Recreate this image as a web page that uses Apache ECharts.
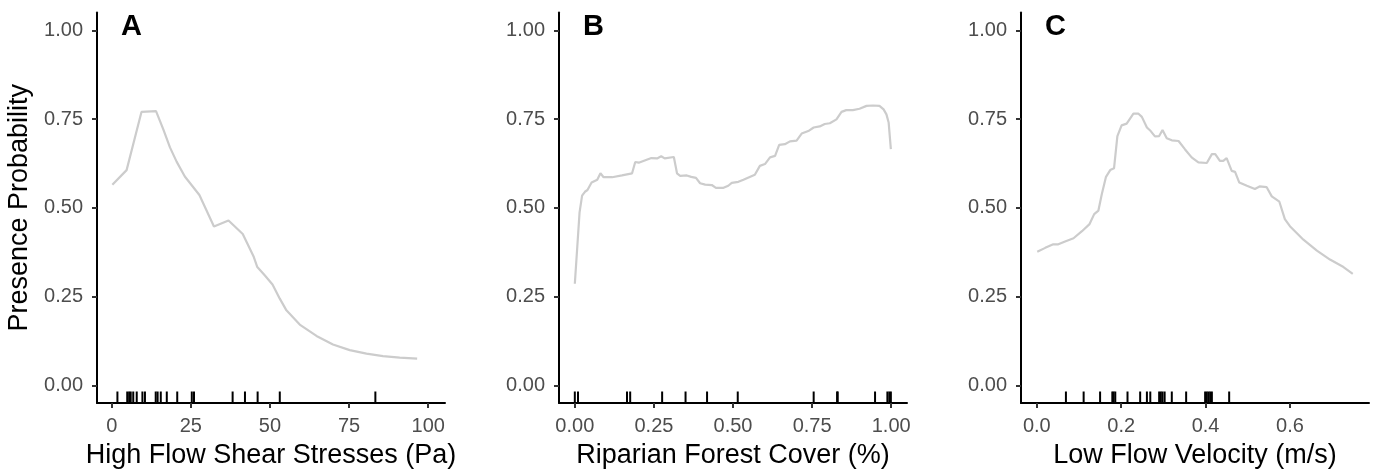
<!DOCTYPE html>
<html>
<head>
<meta charset="utf-8">
<script src="https://cdn.jsdelivr.net/npm/echarts@6/dist/echarts.min.js"></script>
<style>
html,body{margin:0;padding:0;background:#fff;}
#chart{width:1374px;height:474px;}
</style>
</head>
<body>
<div id="chart"></div>
<script>
// ---- Data ----
const panelLabels = ['A', 'B', 'C'];
const xTitles = ['High Flow Shear Stresses (Pa)', 'Riparian Forest Cover (%)', 'Low Flow Velocity (m/s)'];
const yTitle = 'Presence Probability';
const yTicks = [0, 0.25, 0.5, 0.75, 1];
const xTicksA = [0, 25, 50, 75, 100];
const xTicksB = [0, 0.25, 0.5, 0.75, 1];
const xTicksC = [0, 0.2, 0.4, 0.6];

const xA = [0.2, 4.7, 9.4, 14.0, 16.3, 18.4, 20.5, 23.1, 27.7, 32.3, 36.9, 41.4, 44.9, 46.0, 48.4, 50.8, 53.1, 55.2, 59.4, 64.7, 69.9, 75.2, 80.5, 85.7, 91.0, 96.5];
const yA = [0.565, 0.606, 0.770, 0.772, 0.721, 0.670, 0.630, 0.588, 0.536, 0.447, 0.464, 0.426, 0.361, 0.333, 0.309, 0.284, 0.244, 0.211, 0.171, 0.139, 0.115, 0.099, 0.089, 0.082, 0.078, 0.075];

const xB = [0.0, 0.008, 0.015, 0.023, 0.032, 0.040, 0.053, 0.071, 0.081, 0.091, 0.118, 0.149, 0.181, 0.191, 0.202, 0.223, 0.242, 0.260, 0.273, 0.284, 0.313, 0.323, 0.333, 0.354, 0.368, 0.383, 0.396, 0.412, 0.433, 0.446, 0.470, 0.485, 0.496, 0.517, 0.533, 0.569, 0.585, 0.601, 0.617, 0.633, 0.646, 0.664, 0.680, 0.701, 0.717, 0.738, 0.755, 0.774, 0.790, 0.806, 0.827, 0.843, 0.858, 0.879, 0.900, 0.922, 0.942, 0.963, 0.976, 0.985, 0.992, 0.999];
const yB = [0.286, 0.393, 0.487, 0.534, 0.545, 0.550, 0.571, 0.579, 0.597, 0.586, 0.586, 0.591, 0.597, 0.629, 0.627, 0.634, 0.640, 0.639, 0.645, 0.639, 0.643, 0.597, 0.590, 0.591, 0.587, 0.584, 0.569, 0.565, 0.564, 0.556, 0.556, 0.562, 0.570, 0.573, 0.579, 0.593, 0.618, 0.623, 0.642, 0.646, 0.677, 0.679, 0.687, 0.689, 0.709, 0.716, 0.726, 0.729, 0.736, 0.738, 0.749, 0.770, 0.775, 0.775, 0.779, 0.787, 0.788, 0.787, 0.777, 0.763, 0.740, 0.665];

const xC = [0.001, 0.020, 0.039, 0.051, 0.067, 0.087, 0.107, 0.125, 0.136, 0.146, 0.154, 0.164, 0.174, 0.183, 0.191, 0.201, 0.213, 0.229, 0.241, 0.249, 0.261, 0.270, 0.280, 0.290, 0.298, 0.308, 0.320, 0.336, 0.351, 0.367, 0.383, 0.403, 0.415, 0.423, 0.434, 0.442, 0.450, 0.462, 0.470, 0.480, 0.498, 0.517, 0.528, 0.545, 0.557, 0.575, 0.588, 0.600, 0.632, 0.664, 0.695, 0.727, 0.749];
const yC = [0.376, 0.387, 0.397, 0.397, 0.405, 0.414, 0.434, 0.454, 0.482, 0.492, 0.538, 0.587, 0.606, 0.611, 0.702, 0.732, 0.737, 0.765, 0.765, 0.756, 0.726, 0.716, 0.701, 0.702, 0.719, 0.696, 0.690, 0.688, 0.665, 0.642, 0.628, 0.626, 0.651, 0.651, 0.632, 0.632, 0.640, 0.604, 0.601, 0.571, 0.562, 0.553, 0.560, 0.558, 0.532, 0.517, 0.468, 0.448, 0.410, 0.379, 0.354, 0.333, 0.314];

const rugA = [1.8, 4.9, 5.5, 6.0, 6.8, 7.9, 9.7, 10.5, 13.9, 14.5, 15.5, 17.4, 20.7, 25.3, 26.0, 38.2, 42.1, 46.1, 53.1, 83.3];
const rugB = [0.0, 0.01, 0.165, 0.175, 0.276, 0.35, 0.418, 0.515, 0.755, 0.829, 0.831, 0.949, 0.988, 0.994, 0.999];
const rugC = [0.069, 0.111, 0.150, 0.179, 0.182, 0.186, 0.215, 0.245, 0.261, 0.269, 0.290, 0.294, 0.298, 0.303, 0.320, 0.354, 0.399, 0.403, 0.407, 0.411, 0.415, 0.456];

// ---- Layout ----
const FONT = '"Liberation Sans", Arial, Helvetica, sans-serif';
const gridLefts = [97, 559, 1021];
const gridW = 348, gridTop = 12.5, gridH = 392;
const xRanges = [[-4.65, 105.3], [-0.05, 1.05], [-0.0375, 0.7875]];
const xTickSets = [xTicksA, xTicksB, xTicksC];
const xFormat = [v => String(Math.round(v)), v => v.toFixed(2), v => v.toFixed(1)];
const curves = [[xA, yA], [xB, yB], [xC, yC]];
const rugs = [rugA, rugB, rugC];

const grids = [], xAxes = [], yAxes = [], series = [], graphics = [];
for (let i = 0; i < 3; i++) {
  grids.push({left: gridLefts[i], top: gridTop, width: gridW, height: gridH, containLabel: false});
  xAxes.push({
    type: 'value', gridIndex: i, min: xRanges[i][0], max: xRanges[i][1],
    axisLine: {show: true, onZero: false, lineStyle: {color: '#000', width: 2}},
    axisTick: {show: true, length: 5, lineStyle: {color: '#333', width: 2}, customValues: xTickSets[i]},
    axisLabel: {customValues: xTickSets[i], formatter: xFormat[i], color: '#4d4d4d', fontSize: 20, fontFamily: FONT, margin: 13},
    splitLine: {show: false},
    name: xTitles[i], nameLocation: 'middle', nameGap: 39,
    nameTextStyle: {color: '#000', fontSize: 27, fontFamily: FONT}
  });
  yAxes.push({
    type: 'value', gridIndex: i, min: -0.05, max: 1.05,
    axisLine: {show: true, onZero: false, lineStyle: {color: '#000', width: 2}},
    axisTick: {show: true, length: 5, lineStyle: {color: '#333', width: 2}, customValues: yTicks},
    axisLabel: {customValues: yTicks, formatter: v => v.toFixed(2), color: '#4d4d4d', fontSize: 20, fontFamily: FONT, margin: 14},
    splitLine: {show: false},
    name: i === 0 ? yTitle : '', nameLocation: 'middle', nameGap: 64,
    nameTextStyle: {color: '#000', fontSize: 27, fontFamily: FONT}
  });
  const [xs, ys] = curves[i];
  series.push({
    type: 'line', xAxisIndex: i, yAxisIndex: i, showSymbol: false, silent: true,
    data: xs.map((x, k) => [x, ys[k]]),
    lineStyle: {color: '#cccccc', width: 2.2}
  });
  series.push({
    type: 'custom', xAxisIndex: i, yAxisIndex: i, silent: true,
    data: rugs[i].map(x => [x, -0.05]),
    encode: {x: 0, y: 1},
    renderItem: (params, api) => {
      const p = api.coord([api.value(0), -0.05]);
      return {type: 'line', shape: {x1: p[0], y1: p[1], x2: p[0], y2: p[1] - 11.5},
              style: {stroke: '#000', lineWidth: 2}};
    }
  });
  graphics.push({
    type: 'text', left: gridLefts[i] + 24, top: 12,
    style: {text: panelLabels[i], fill: '#000', font: 'bold 29px ' + FONT}
  });
}

const chart = echarts.init(document.getElementById('chart'), null, {renderer: 'canvas'});
chart.setOption({
  animation: false,
  backgroundColor: '#fff',
  grid: grids, xAxis: xAxes, yAxis: yAxes, series: series, graphic: graphics
});
</script>
</body>
</html>
